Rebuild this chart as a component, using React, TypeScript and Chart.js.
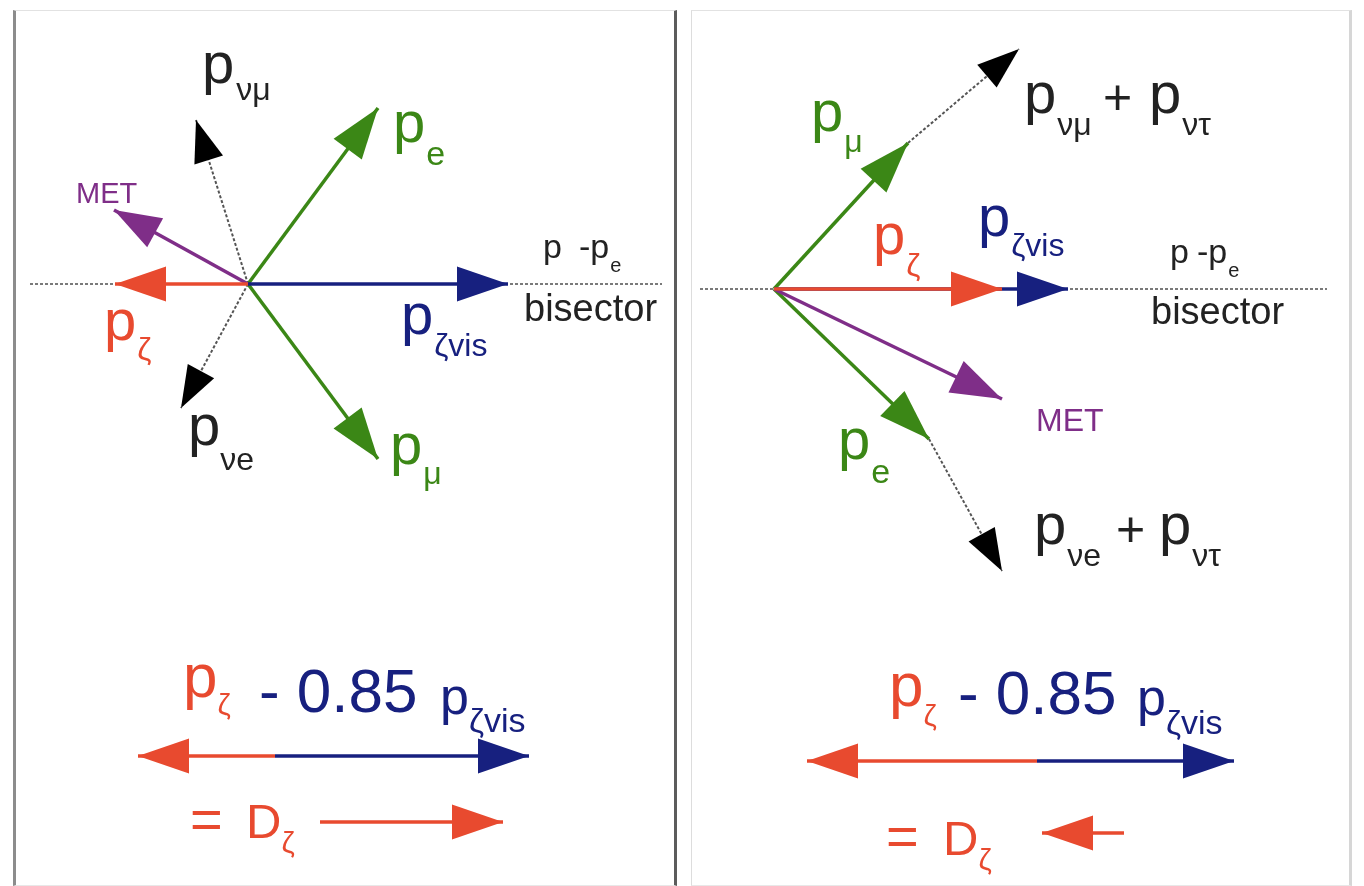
import { useEffect, useRef } from "react";
import { Chart, registerables } from "chart.js";

Chart.register(...registerables);

type Vec = [number, number];

// Momentum vectors, in arbitrary units, with the origin at the tau-pair vertex.
// Left panel: back-to-back leptons, neutrinos opposite to the visible sum.
const L_ORIGIN: Vec = [0, 0];
const L_P_VIS: Vec = [2.6, 0];
const L_P_ZETA: Vec = [-1.33, 0];
const L_P_E: Vec = [1.3, 1.76];
const L_P_MU: Vec = [1.3, -1.75];
const L_MET: Vec = [-1.34, 0.74];
const L_NU_MU: Vec = [-0.52, 1.64];
const L_NU_E: Vec = [-0.67, -1.24];
const L_BISECTOR_X: Vec = [-2.18, 4.14];
// projection row: [left tip, red/blue split, right tip] and its height
const L_ROW_X = [-1.1, 0.27, 2.81];
const L_ROW_Y = -4.72;
// resulting D_zeta arrow: [tail, tip] and its height
const L_DZ_X: Vec = [0.72, 2.55];
const L_DZ_Y = -5.38;

// Right panel: collinear neutrinos, real di-tau event.
const R_ORIGIN: Vec = [0, 0];
const R_P_ZETA: Vec = [2.28, 0];
const R_P_VIS: Vec = [2.94, 0];
const R_P_MU: Vec = [1.34, 1.46];
const R_NU_SUM_MU: Vec = [2.45, 2.4];
const R_MET: Vec = [2.28, -1.1];
const R_P_E: Vec = [1.55, -1.5];
const R_NU_SUM_E: Vec = [2.28, -2.82];
const R_BISECTOR_X: Vec = [-0.74, 5.53];
const R_ROW_X = [0.33, 2.63, 4.6];
const R_ROW_Y = -4.72;
const R_DZ_X: Vec = [3.5, 2.68];
const R_DZ_Y = -5.44;

const RED = "#e84a2f";
const BLUE = "#17207f";
const GREEN = "#3b8716";
const PURPLE = "#7f2e88";
const INK = "#222222";
const DOT = "#555555";
const FONT = '"Liberation Sans", Arial, Helvetica, sans-serif';

type Head = { len: number; half: number; color?: string } | null;
type Run = { t: string; size: number; color: string; dy?: number; gap?: number };
type Label = { at: Vec; runs: Run[] };

const BIG: Head = { len: 51, half: 17.5 };
const MID: Head = { len: 47, half: 16.5 };
const SMALL: Head = { len: 42, half: 15, color: "#000000" };

function seg(from: Vec, to: Vec, color: string, head: Head, width = 3.5, dash: number[] = []) {
  return {
    data: [
      { x: from[0], y: from[1] },
      { x: to[0], y: to[1] },
    ],
    showLine: true,
    borderColor: color,
    backgroundColor: color,
    borderWidth: width,
    borderDash: dash,
    borderCapStyle: "butt",
    pointRadius: 0,
    pointHoverRadius: 0,
    head,
  };
}

const p = (color: string, size = 58): Run => ({ t: "p", size, color });
const sub = (t: string, color: string, dy: number, size = 32, gap = 1): Run => ({ t, size, color, dy, gap });

const leftLabels: Label[] = [
  { at: [-0.46, 2.01], runs: [p(INK), sub("νμ", INK, 17, 32, 2)] },
  { at: [1.45, 1.42], runs: [p(GREEN), sub("e", GREEN, 23, 34)] },
  { at: [-1.72, 0.81], runs: [{ t: "MET", size: 29, color: PURPLE }] },
  { at: [-1.44, -0.56], runs: [p(RED), sub("ζ", RED, 20)] },
  { at: [1.53, -0.5], runs: [p(BLUE), sub("ζvis", BLUE, 22)] },
  {
    at: [2.95, 0.26],
    runs: [
      { t: "p", size: 34, color: INK },
      { t: "-p", size: 34, color: INK, gap: 17 },
      sub("e", INK, 14, 20, 1),
    ],
  },
  { at: [2.76, -0.37], runs: [{ t: "bisector", size: 38, color: INK }] },
  { at: [-0.6, -1.61], runs: [p(INK), sub("νe", INK, 25, 32, 0)] },
  { at: [1.42, -1.8], runs: [p(GREEN), sub("μ", GREEN, 20)] },
  { at: [-0.65, -4.13], runs: [p(RED, 62), sub("ζ", RED, 18, 30, 0)] },
  { at: [0.11, -4.28], runs: [{ t: "- 0.85", size: 62, color: BLUE }] },
  { at: [1.92, -4.3], runs: [p(BLUE, 52), sub("ζvis", BLUE, 18, 34, 0)] },
  { at: [-0.58, -5.54], runs: [{ t: "=", size: 56, color: RED }] },
  { at: [-0.02, -5.54], runs: [{ t: "D", size: 49, color: RED }, sub("ζ", RED, 15, 30, 0)] },
];

const rightLabels: Label[] = [
  { at: [0.37, 1.58], runs: [p(GREEN), sub("μ", GREEN, 21)] },
  { at: [2.5, 1.76], runs: [p(INK), sub("νμ", INK, 22)] },
  { at: [3.29, 1.75], runs: [{ t: "+", size: 50, color: INK }] },
  { at: [3.75, 1.76], runs: [p(INK), sub("ντ", INK, 22)] },
  { at: [0.99, 0.35], runs: [p(RED), sub("ζ", RED, 22)] },
  { at: [2.04, 0.53], runs: [p(BLUE), sub("ζvis", BLUE, 20)] },
  {
    at: [3.96, 0.26],
    runs: [
      { t: "p", size: 34, color: INK },
      { t: "-p", size: 34, color: INK, gap: 8 },
      sub("e", INK, 14, 20, 1),
    ],
  },
  { at: [3.77, -0.35], runs: [{ t: "bisector", size: 38, color: INK }] },
  { at: [2.62, -1.42], runs: [{ t: "MET", size: 32, color: PURPLE }] },
  { at: [0.64, -1.7], runs: [p(GREEN), sub("e", GREEN, 24, 34)] },
  { at: [2.6, -2.55], runs: [p(INK), sub("νe", INK, 22)] },
  { at: [3.42, -2.57], runs: [{ t: "+", size: 50, color: INK }] },
  { at: [3.85, -2.55], runs: [p(INK), sub("ντ", INK, 22)] },
  { at: [1.15, -4.17], runs: [p(RED, 62), sub("ζ", RED, 20, 30, 0)] },
  { at: [1.84, -4.25], runs: [{ t: "- 0.85", size: 62, color: BLUE }] },
  { at: [3.63, -4.26], runs: [p(BLUE, 52), sub("ζvis", BLUE, 19, 34, 0)] },
  { at: [1.12, -5.66], runs: [{ t: "=", size: 56, color: RED }] },
  { at: [1.69, -5.66], runs: [{ t: "D", size: 49, color: RED }, sub("ζ", RED, 15, 30, 0)] },
];

// Datasets are listed back to front.
const leftDatasets = [
  seg([L_BISECTOR_X[0], 0], [L_BISECTOR_X[1], 0], "#7a7a7a", null, 2, [3, 2]),
  seg(L_ORIGIN, L_NU_MU, DOT, SMALL, 2, [3, 2]),
  seg(L_ORIGIN, L_NU_E, DOT, SMALL, 2, [3, 2]),
  seg(L_ORIGIN, L_P_E, GREEN, BIG),
  seg(L_ORIGIN, L_P_MU, GREEN, BIG),
  seg(L_ORIGIN, L_MET, PURPLE, MID),
  seg(L_ORIGIN, L_P_VIS, BLUE, BIG),
  seg(L_ORIGIN, L_P_ZETA, RED, BIG),
  seg([L_ROW_X[1], L_ROW_Y], [L_ROW_X[2], L_ROW_Y], BLUE, BIG),
  seg([L_ROW_X[1], L_ROW_Y], [L_ROW_X[0], L_ROW_Y], RED, BIG),
  seg([L_DZ_X[0], L_DZ_Y], [L_DZ_X[1], L_DZ_Y], RED, BIG),
];

const rightDatasets = [
  seg([R_BISECTOR_X[0], 0], [R_BISECTOR_X[1], 0], "#7a7a7a", null, 2, [3, 2]),
  seg(R_P_MU, R_NU_SUM_MU, DOT, SMALL, 2, [3, 2]),
  seg(R_P_E, R_NU_SUM_E, DOT, SMALL, 2, [3, 2]),
  seg(R_ORIGIN, R_P_MU, GREEN, BIG),
  seg(R_ORIGIN, R_P_E, GREEN, BIG),
  seg(R_ORIGIN, R_MET, PURPLE, BIG),
  seg(R_ORIGIN, R_P_VIS, BLUE, BIG),
  seg(R_ORIGIN, R_P_ZETA, RED, BIG),
  seg([R_ROW_X[1], R_ROW_Y], [R_ROW_X[2], R_ROW_Y], BLUE, BIG),
  seg([R_ROW_X[1], R_ROW_Y], [R_ROW_X[0], R_ROW_Y], RED, BIG),
  seg([R_DZ_X[0], R_DZ_Y], [R_DZ_X[1], R_DZ_Y], RED, BIG),
];

const arrowHeads = {
  id: "arrowHeads",
  afterDatasetsDraw(chart: any) {
    const ctx = chart.ctx;
    chart.data.datasets.forEach((ds: any, i: number) => {
      if (!ds.head) return;
      const pts = chart.getDatasetMeta(i).data;
      const a = pts[pts.length - 2];
      const b = pts[pts.length - 1];
      const ang = Math.atan2(b.y - a.y, b.x - a.x);
      const { len, half, color } = ds.head;
      const bx = b.x - Math.cos(ang) * len;
      const by = b.y - Math.sin(ang) * len;
      const nx = -Math.sin(ang) * half;
      const ny = Math.cos(ang) * half;
      ctx.save();
      ctx.fillStyle = color ?? ds.borderColor;
      ctx.beginPath();
      ctx.moveTo(b.x, b.y);
      ctx.lineTo(bx + nx, by + ny);
      ctx.lineTo(bx - nx, by - ny);
      ctx.closePath();
      ctx.fill();
      ctx.restore();
    });
  },
};

function labelPlugin(labels: Label[]) {
  return {
    id: "richLabels",
    afterDraw(chart: any) {
      const ctx = chart.ctx;
      const xs = chart.scales.x;
      const ys = chart.scales.y;
      ctx.save();
      ctx.textBaseline = "alphabetic";
      ctx.textAlign = "left";
      for (const lb of labels) {
        let cx = xs.getPixelForValue(lb.at[0]);
        const cy = ys.getPixelForValue(lb.at[1]);
        for (const r of lb.runs) {
          cx += r.gap ?? 0;
          ctx.font = `${r.size}px ${FONT}`;
          ctx.fillStyle = r.color;
          ctx.fillText(r.t, cx, cy + (r.dy ?? 0));
          cx += ctx.measureText(r.t).width;
        }
      }
      ctx.restore();
    },
  };
}

type PanelProps = {
  datasets: any[];
  labels: Label[];
  xRange: Vec;
  yRange: Vec;
  width: number;
  height: number;
};

function Panel({ datasets, labels, xRange, yRange, width, height }: PanelProps) {
  const ref = useRef<HTMLCanvasElement | null>(null);
  useEffect(() => {
    if (!ref.current) return;
    const n = datasets.length;
    const chart = new Chart(ref.current, {
      type: "scatter",
      data: { datasets: datasets.map((d, i) => ({ ...d, order: n - i })) as any },
      options: {
        animation: false,
        responsive: false,
        devicePixelRatio: 1,
        events: [],
        layout: { padding: 0 },
        plugins: { legend: { display: false }, tooltip: { enabled: false } },
        scales: {
          x: { type: "linear", min: xRange[0], max: xRange[1], display: false },
          y: { type: "linear", min: yRange[0], max: yRange[1], display: false },
        },
      },
      plugins: [arrowHeads, labelPlugin(labels)],
    });
    return () => chart.destroy();
  }, [datasets, labels, xRange, yRange]);
  return (
    <canvas
      ref={ref}
      width={width}
      height={height}
      style={{ display: "block", width, height }}
    />
  );
}

export default function App() {
  return (
    <div
      style={{
        position: "absolute",
        left: 0,
        top: 0,
        width: 1364,
        height: 886,
        background: "#ffffff",
        overflow: "hidden",
      }}
    >
      <div
        style={{
          position: "absolute",
          left: 13,
          top: 10,
          width: 658,
          height: 874,
          borderLeft: "3px solid #8c8c8c",
          borderRight: "3px solid #5c5c5c",
          borderTop: "1px solid #e2e2e2",
          borderBottom: "1px solid #e8e8e8",
        }}
      >
        <Panel
          datasets={leftDatasets}
          labels={leftLabels}
          xRange={[-2.32, 4.26]}
          yRange={[-6.01, 2.73]}
          width={658}
          height={874}
        />
      </div>
      <div
        style={{
          position: "absolute",
          left: 691,
          top: 10,
          width: 657,
          height: 874,
          borderLeft: "1px solid #dddddd",
          borderRight: "3px solid #d6d6d6",
          borderTop: "1px solid #e2e2e2",
          borderBottom: "1px solid #e8e8e8",
        }}
      >
        <Panel
          datasets={rightDatasets}
          labels={rightLabels}
          xRange={[-0.82, 5.75]}
          yRange={[-5.96, 2.78]}
          width={657}
          height={874}
        />
      </div>
    </div>
  );
}
